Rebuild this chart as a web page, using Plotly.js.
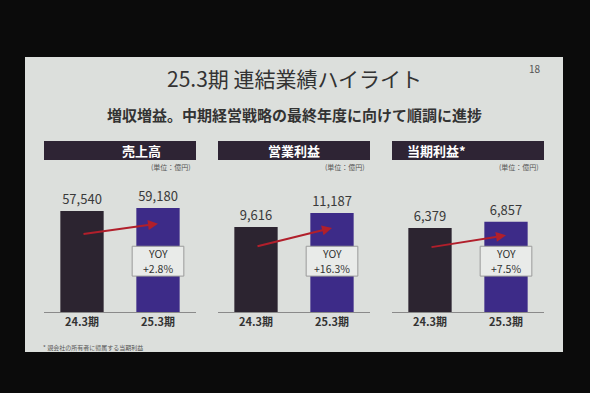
<!DOCTYPE html>
<html><head><meta charset="utf-8">
<script src="https://cdn.plot.ly/plotly-3.0.1.min.js"></script>
<style>html,body{margin:0;padding:0;background:#0b0b0b;}#chart{width:590px;height:393px;}</style>
</head><body><div id="chart"></div>
<script>
const categories = ['24.3期', '25.3期'];
const panelTitles = ['売上高', '営業利益', '当期利益*'];
const salesValues = [57540, 59180];
const opProfitValues = [9616, 11187];
const netProfitValues = [6379, 6857];
const yoyLabels = ['+2.8%', '+16.3%', '+7.5%'];
const unitLabel = '(単位：億円)';
const titleText = '25.3期 連結業績ハイライト';
const subtitleText = '増収増益。中期経営戦略の最終年度に向けて順調に進捗';
const footnoteText = '* 親会社の所有者に帰属する当期利益';
const pageNo = '18';

const series = [salesValues, opProfitValues, netProfitValues];
const FONT = '"Noto Sans CJK JP", "Noto Sans", sans-serif';
const W = 590, H = 393;
const px = v => v / W, py = v => (H - v) / H;
const xDomains = [[44, 196], [218, 370], [392, 544]];
const yDomain = [py(312), py(180)];
const yTops = [75200, 14930, 10030];
const barColors = ['#2c2430', '#3d2b88'];

const data = [], shapes = [], annotations = [];
const layout = {
  width: W, height: H, margin: {l: 0, r: 0, t: 0, b: 0},
  paper_bgcolor: '#0b0b0b', plot_bgcolor: 'rgba(0,0,0,0)',
  showlegend: false, bargap: 0.43,
  font: {family: FONT, color: '#333'}
};

shapes.push({type: 'rect', xref: 'paper', yref: 'paper', x0: px(25), x1: px(563), y0: py(352), y1: py(57),
  fillcolor: '#dcdfdc', line: {width: 0}, layer: 'below'});

series.forEach((vals, i) => {
  const n = i === 0 ? '' : String(i + 1);
  const xa = 'x' + n, ya = 'y' + n;
  data.push({
    type: 'bar', x: categories, y: vals, xaxis: xa, yaxis: ya,
    marker: {color: barColors, line: {width: 0}},
    text: vals.map(v => v.toLocaleString('en-US')), textposition: 'outside',
    textfont: {size: 13, color: '#3a3a3a', family: FONT}, cliponaxis: false,
    hoverinfo: 'skip'
  });
  layout['xaxis' + n] = {
    domain: [px(xDomains[i][0]), px(xDomains[i][1])], anchor: ya,
    type: 'category', showline: true, linecolor: '#8a8a8a', linewidth: 1,
    showgrid: false, zeroline: false, ticks: '',
    tickfont: {size: 11, color: '#333', family: FONT, weight: 700}
  };
  layout['yaxis' + n] = {
    domain: yDomain, anchor: xa, range: [0, yTops[i]],
    visible: false, showgrid: false, zeroline: false
  };
  // header box
  shapes.push({type: 'rect', xref: 'paper', yref: 'paper',
    x0: px(xDomains[i][0]), x1: px(xDomains[i][1]), y0: py(160), y1: py(141),
    fillcolor: '#2e2434', line: {width: 0}});
  annotations.push({xref: 'paper', yref: 'paper', x: px((xDomains[i][0] + xDomains[i][1]) / 2), y: py(150.5),
    yanchor: 'middle', text: panelTitles[i], showarrow: false,
    font: {size: 13, color: '#ffffff', family: FONT, weight: 700}});
  annotations.push({xref: 'paper', yref: 'paper', x: px(xDomains[i][1] - 3), y: py(167),
    xanchor: 'right', yanchor: 'middle', text: unitLabel, showarrow: false, font: {size: 7, color: '#555'}});
  // growth arrow
  annotations.push({xref: xa, yref: ya, axref: xa, ayref: ya,
    x: 1, y: vals[1] * 0.85, ax: 0, ay: vals[0] * 0.77,
    showarrow: true, arrowhead: 2, arrowsize: 1, arrowwidth: 2, arrowcolor: '#b11f2b', text: ''});
  // YOY box
  shapes.push({type: 'rect', xref: xa, yref: ya + ' domain', x0: 1 - 0.34, x1: 1 + 0.34, y0: 0.272, y1: 0.498,
    fillcolor: '#e9ebe9', line: {color: '#9a9a9a', width: 1}});
  annotations.push({xref: xa, yref: ya + ' domain', x: 1, y: 0.443, yanchor: 'middle', text: 'YOY',
    showarrow: false, font: {size: 10.5, color: '#333', family: FONT}});
  annotations.push({xref: xa, yref: ya + ' domain', x: 1, y: 0.327, yanchor: 'middle', text: yoyLabels[i],
    showarrow: false, font: {size: 10.5, color: '#333', family: FONT}});
});

annotations.push({xref: 'paper', yref: 'paper', x: px(294), y: py(78), yanchor: 'middle', text: titleText,
  showarrow: false, font: {size: 21, color: '#333', family: FONT}});
annotations.push({xref: 'paper', yref: 'paper', x: px(294), y: py(114), yanchor: 'middle', text: subtitleText,
  showarrow: false, font: {size: 15, color: '#333', family: FONT, weight: 700}});
annotations.push({xref: 'paper', yref: 'paper', x: px(543), y: py(69), yanchor: 'middle', text: pageNo,
  showarrow: false, font: {size: 10, color: '#555'}});
annotations.push({xref: 'paper', yref: 'paper', x: px(41), y: py(347), xanchor: 'left', yanchor: 'middle',
  text: footnoteText, showarrow: false, font: {size: 6, color: '#555'}});

layout.shapes = shapes;
layout.annotations = annotations;
Plotly.newPlot('chart', data, layout, {staticPlot: true});
</script></body></html>
